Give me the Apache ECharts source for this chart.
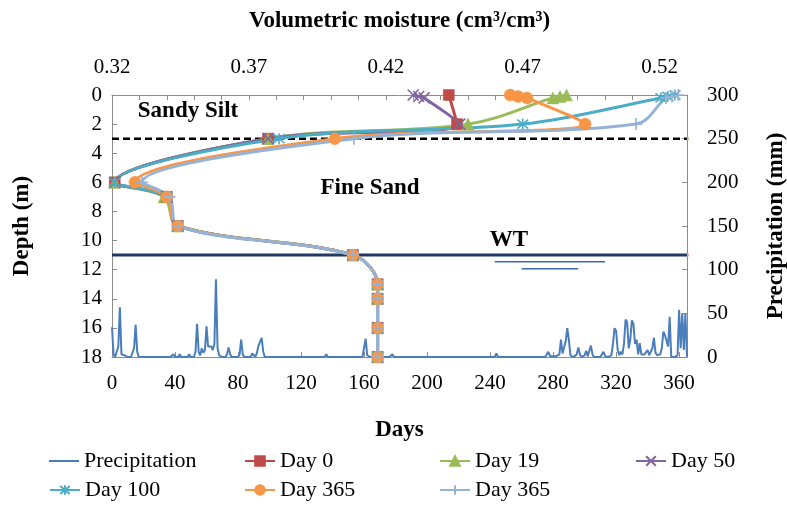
<!DOCTYPE html>
<html>
<head>
<meta charset="utf-8">
<script src="https://cdn.jsdelivr.net/npm/echarts@6/dist/echarts.min.js"></script>
<style>html,body{margin:0;padding:0;background:#fff}#c{width:787px;height:509px}</style>
</head>
<body>
<div id="c"></div>
<script>
// ---------- data ----------
const moistureLabels = [0.32, 0.37, 0.42, 0.47, 0.52];
const moistureTicks = [0.32,0.33,0.34,0.35,0.36,0.37,0.38,0.39,0.40,0.41,0.42,0.43,0.44,0.45,0.46,0.47,0.48,0.49,0.50,0.51,0.52,0.53];

const depthsDay0 = [0, 2, 3, 6, 7, 9, 11, 13, 14, 16, 18];
const moistDay0 = [0.443, 0.446, 0.377, 0.321, 0.340, 0.344, 0.408, 0.417, 0.417, 0.417, 0.417];

const depthsMulti = [0, 0.1, 0.2, 2, 3, 6, 7, 9, 11, 13, 14, 16, 18];
const moistDay19 = [0.486, 0.4836, 0.481, 0.450, 0.377, 0.321, 0.339, 0.344, 0.408, 0.417, 0.417, 0.417, 0.417];
const moistDay50 = [0.430, 0.432, 0.434, 0.447, 0.377, 0.321, 0.340, 0.344, 0.408, 0.417, 0.417, 0.417, 0.417];
const moistDay100 = [0.5256, 0.523, 0.5205, 0.470, 0.381, 0.321, 0.340, 0.344, 0.408, 0.417, 0.417, 0.417, 0.417];
const moistDay365a = [0.4654, 0.4683, 0.4716, 0.4928, 0.4014, 0.3284, 0.340, 0.344, 0.408, 0.417, 0.417, 0.417, 0.417];
const moistDay365b = [0.5268, 0.5245, 0.5223, 0.5114, 0.4084, 0.331, 0.341, 0.344, 0.408, 0.417, 0.417, 0.417, 0.417];

// daily precipitation (mm), day 0 .. 365
const precipitation = [
 34,3,0,2,12,57,3,1,2,0,
 0,0,0,0,10,37,6,0,0,0,
 0,0,0,0,0,0,0,0,0,0,
 0,0,0,0,0,0,0,0,0,3,
 0,0,0,3,0,0,0,0,0,3,
 0,0,0,6,38,6,2,10,5,8,
 35,12,10,12,8,15,89,10,2,0,
 0,0,0,3,11,3,0,0,0,0,
 0,3,20,3,0,0,0,0,0,4,
 2,0,5,13,11,22,6,0,0,0,
 0,0,0,0,0,0,0,0,0,0,
 0,0,0,0,0,0,0,0,0,0,
 0,0,0,0,0,0,0,0,0,0,
 0,0,0,0,0,0,3,0,0,0,
 0,0,0,0,0,0,0,0,0,0,
 0,0,0,0,0,0,0,0,0,0,
 2,21,2,0,0,0,0,0,0,0,
 0,0,0,0,0,0,0,0,3,0,
 0,0,0,0,0,0,0,0,0,0,
 0,0,0,0,0,0,0,0,0,0,
 0,0,0,0,0,0,0,0,0,0,
 0,0,0,0,0,0,0,0,0,0,
 0,0,0,0,0,0,0,0,0,0,
 0,0,0,0,0,0,0,0,0,0,
 0,0,0,0,4,0,0,0,0,0,
 0,0,0,0,0,0,0,0,0,0,
 0,0,0,0,0,0,0,0,0,0,
 0,0,0,0,0,0,1,6,1,0,
 1,3,1,0,3,20,4,2,18,33,
 20,2,0,0,0,3,11,3,0,0,
 2,7,1,3,13,3,0,0,0,0,
 0,1,6,1,0,0,0,2,15,33,
 30,8,2,6,3,15,43,40,10,20,
 42,38,15,20,3,16,3,1,3,5,
 8,2,1,10,22,5,2,4,3,10,
 29,25,27,12,46,0,0,0,0,2,
 54,10,50,8,50,0
];

// layer boundaries (depth, m) and annotation lines
const boundaryDepth = 3;     // sandy silt / fine sand
const waterTableDepth = 11;  // WT
const wtSymbolDays1 = [243, 313], wtSymbolPrecip1 = 109;
const wtSymbolDays2 = [260, 296], wtSymbolPrecip2 = 101;

// ---------- chart ----------
const SERIF = '"Liberation Serif","Times New Roman",serif';
const GRAY = '#8c8c8c';
const chart = echarts.init(document.getElementById('c'), null, {renderer: 'canvas'});

function pairs(xs, ys) { return xs.map((x, i) => [x, ys[i]]); }

const X_PATH = 'path://M0,0L10,10M10,0L0,10';
const AST_PATH = 'path://M0,0L10,10M10,0L0,10M5,-1L5,11';
const PLUS_PATH = 'path://M5,0L5,10M0,5L10,5';

function profile(name, xs, ys, color, symbol, size, stroke) {
  return {
    name, type: 'line', xAxisIndex: 0, yAxisIndex: 0,
    data: pairs(xs, ys), smooth: 0.35,
    symbol, symbolSize: size, showSymbol: true,
    lineStyle: {color, width: 3},
    itemStyle: stroke ? {color: 'rgba(0,0,0,0)', borderColor: color, borderWidth: 1.6}
                      : {color, borderColor: color, borderWidth: 0.5},
    emphasis: {disabled: true}, z: 5
  };
}

const axisLabelFont = {fontFamily: SERIF, fontSize: 21, color: '#000'};
const nameFont = {fontFamily: SERIF, fontSize: 23, fontWeight: 'bold', color: '#000'};
const annotFont = 'bold 23px ' + SERIF;

const legendBase = {textStyle: {fontFamily: SERIF, fontSize: 22, color: '#000'}, itemWidth: 30, itemHeight: 12, itemGap: 3, selectedMode: false, padding: 0};
const legendPos = [
  ['Precipitation', 49, 450], ['Day 0', 244, 450], ['Day 19', 439, 450], ['Day 50', 635, 450],
  ['Day 100', 49, 479], ['Day 365', 244, 479], ['Day 365 ', 439, 479]
];

const option = {
  animation: false,
  backgroundColor: '#fff',
  grid: {left: 112, right: 100, top: 95, bottom: 152, containLabel: false, outerBoundsMode: 'none'},
  xAxis: [
    {
      type: 'value', position: 'top', min: 0.32, max: 0.53,
      name: 'Volumetric moisture (cm³/cm³)', nameLocation: 'middle', nameGap: 62, nameTextStyle: nameFont,
      axisLine: {show: true, onZero: false, lineStyle: {color: GRAY, width: 1}},
      axisTick: {show: true, inside: true, length: 5, customValues: moistureTicks, lineStyle: {color: GRAY}},
      axisLabel: Object.assign({margin: 17, customValues: moistureLabels, formatter: v => v.toFixed(2)}, axisLabelFont),
      splitLine: {show: false}
    },
    {
      type: 'value', position: 'bottom', min: 0, max: 365, interval: 40,
      name: 'Days', nameLocation: 'middle', nameGap: 62, nameTextStyle: nameFont,
      axisLine: {show: true, onZero: false, lineStyle: {color: GRAY, width: 1}},
      axisTick: {show: true, inside: true, length: 5, lineStyle: {color: GRAY}},
      axisLabel: Object.assign({margin: 16, showMaxLabel: false}, axisLabelFont),
      splitLine: {show: false}
    }
  ],
  yAxis: [
    {
      type: 'value', position: 'left', inverse: true, min: 0, max: 18, interval: 2,
      name: 'Depth (m)', nameLocation: 'middle', nameGap: 78, nameRotate: 90, nameTextStyle: nameFont,
      axisLine: {show: true, onZero: false, lineStyle: {color: GRAY, width: 1}},
      axisTick: {show: true, inside: true, length: 5, lineStyle: {color: GRAY}},
      axisLabel: Object.assign({margin: 10}, axisLabelFont),
      splitLine: {show: false}
    },
    {
      type: 'value', position: 'right', min: 0, max: 300, interval: 50,
      name: 'Precipitation (mm)', nameLocation: 'middle', nameGap: 78, nameRotate: 90, nameTextStyle: nameFont,
      axisLine: {show: true, onZero: false, lineStyle: {color: GRAY, width: 1}},
      axisTick: {show: true, inside: true, length: 5, lineStyle: {color: GRAY}},
      axisLabel: Object.assign({margin: 20}, axisLabelFont),
      splitLine: {show: false}
    }
  ],
  legend: legendPos.map(([n, l, t]) => Object.assign({}, legendBase,
    n === 'Precipitation' ? {data: [{name: n, icon: 'rect'}], itemHeight: 2} : {data: [n]},
    {left: l, top: t})),
  graphic: [
    {type: 'text', x: 188, y: 111, z: 10, style: {text: 'Sandy Silt', font: annotFont, fill: '#000', align: 'center', verticalAlign: 'middle', textAlign: 'center', textVerticalAlign: 'middle'}},
    {type: 'text', x: 370, y: 188, z: 10, style: {text: 'Fine Sand', font: annotFont, fill: '#000', align: 'center', verticalAlign: 'middle', textAlign: 'center', textVerticalAlign: 'middle'}},
    {type: 'text', x: 509, y: 240, z: 10, style: {text: 'WT', font: annotFont, fill: '#000', align: 'center', verticalAlign: 'middle', textAlign: 'center', textVerticalAlign: 'middle'}}
  ],
  series: [
    {
      name: 'Precipitation', type: 'line', xAxisIndex: 1, yAxisIndex: 1,
      data: precipitation.map((v, i) => [i, v]), showSymbol: false, symbol: 'none',
      lineStyle: {color: '#4a7ebb', width: 2}, itemStyle: {color: '#4a7ebb'}, emphasis: {disabled: true}, z: 2
    },
    {
      type: 'line', xAxisIndex: 0, yAxisIndex: 0, data: [[0.32, boundaryDepth], [0.53, boundaryDepth]],
      symbol: 'none', lineStyle: {color: '#000', width: 2.5, type: [7, 4]}, z: 3, silent: true
    },
    {
      type: 'line', xAxisIndex: 0, yAxisIndex: 0, data: [[0.53, boundaryDepth], [0.533, boundaryDepth]], clip: false,
      symbol: 'none', lineStyle: {color: '#b5cf8a', width: 3}, z: 3, silent: true
    },
    {
      type: 'line', xAxisIndex: 0, yAxisIndex: 0, data: [[0.32, waterTableDepth], [0.53, waterTableDepth]],
      symbol: 'none', lineStyle: {color: '#1f3864', width: 3}, z: 3, silent: true
    },
    {
      type: 'line', xAxisIndex: 0, yAxisIndex: 0, data: [[0.53, waterTableDepth], [0.533, waterTableDepth]], clip: false,
      symbol: 'none', lineStyle: {color: '#e8a0a0', width: 3}, z: 3, silent: true
    },
    {
      type: 'line', xAxisIndex: 1, yAxisIndex: 1, data: wtSymbolDays1.map(d => [d, wtSymbolPrecip1]),
      symbol: 'none', lineStyle: {color: '#3d6aa8', width: 1.5}, z: 3, silent: true
    },
    {
      type: 'line', xAxisIndex: 1, yAxisIndex: 1, data: wtSymbolDays2.map(d => [d, wtSymbolPrecip2]),
      symbol: 'none', lineStyle: {color: '#3d6aa8', width: 1.5}, z: 3, silent: true
    },
    profile('Day 0', moistDay0, depthsDay0, '#be4b48', 'rect', 11, false),
    profile('Day 19', moistDay19, depthsMulti, '#9bbb59', 'triangle', 12, false),
    profile('Day 50', moistDay50, depthsMulti, '#8064a2', X_PATH, 11, true),
    profile('Day 100', moistDay100, depthsMulti, '#4bacc6', AST_PATH, 11, true),
    profile('Day 365', moistDay365a, depthsMulti, '#f79646', 'circle', 12, false),
    profile('Day 365 ', moistDay365b, depthsMulti, '#95b3d7', PLUS_PATH, 12, true)
  ]
};
chart.setOption(option);
</script>
</body>
</html>
